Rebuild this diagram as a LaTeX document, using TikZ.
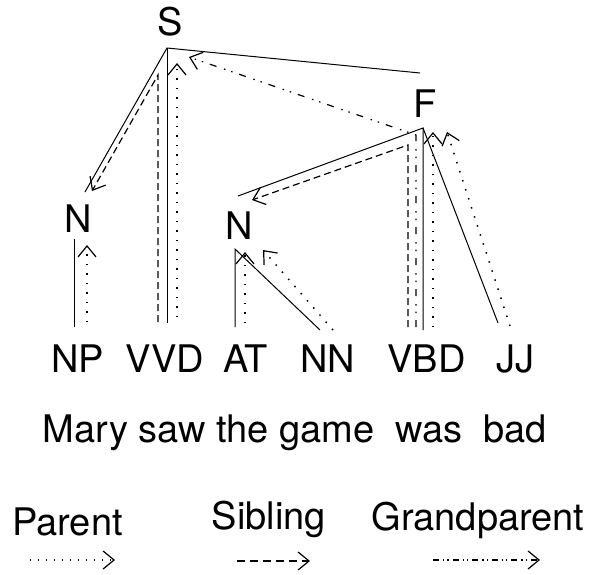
\documentclass[tikz,border=0pt]{standalone}
\usepackage{fontspec}
\setmainfont{TeX Gyre Heros}
\usetikzlibrary{arrows.meta}
\begin{document}
\begin{tikzpicture}[x=1pt,y=-1pt,
  lbl/.style={inner sep=0pt, anchor=base, font=\fontsize{38}{45}\selectfont},
  tree/.style={line width=1pt},
  tip/.style={-{Straight Barb[length=11pt,width=18pt,line width=1.2pt]}},
  parent/.style={tip, line width=1.5pt, dash pattern=on 1.5pt off 8pt},
  sibling/.style={tip, line width=1.2pt, dash pattern=on 7pt off 4pt},
  grand/.style={tip, line width=1.2pt, dash pattern=on 7pt off 7pt on 1.5pt off 6pt on 1.5pt off 8pt},
  lparent/.style={tip, line width=1.3pt, dash pattern=on 1.3pt off 6.7pt},
  lsibling/.style={tip, line width=1.1pt, dash pattern=on 8pt off 5pt},
  lgrand/.style={tip, line width=1.1pt, dash pattern=on 6pt off 4pt on 1.3pt off 3pt on 1.3pt off 4pt},
]
\useasboundingbox (0,0) rectangle (589,574);
% labels
\node[lbl] (S) at (170,35) {S};
\node[lbl] (F) at (425,117) {F};
\node[lbl] (N1) at (78,232) {N};
\node[lbl] (N2) at (239,239) {N};
\node[lbl] (NP) at (77.5,372) {NP};
\node[lbl] (VVD) at (165,372) {VVD};
\node[lbl] (AT) at (245.5,372) {AT};
\node[lbl] (NN) at (327.5,372) {NN};
\node[lbl] (VBD) at (426.5,372) {VBD};
\node[lbl] (JJ) at (515,372) {JJ};
\node[lbl] (words) at (295,442) {Mary saw the game\ \ was\ \ bad};
\node[lbl] (lP) at (67.5,535) {Parent};
\node[lbl] (lS) at (269,529) {Sibling};
\node[lbl] (lG) at (478,530) {Grandparent};
% tree points
\coordinate (s0) at (167,48);
\coordinate (sN) at (85,192);
\coordinate (sF) at (420,73);
\coordinate (sV) at (167,323);
\coordinate (f0) at (423,128);
\coordinate (fN) at (238,196);
\coordinate (fV) at (423,330);
\coordinate (fJ) at (498,323);
\coordinate (n1t) at (74,239);
\coordinate (n1b) at (74,327);
\coordinate (n2t) at (235,249);
\coordinate (n2b) at (235,327);
\coordinate (n2d) at (320,330);
% solid tree edges
\draw[tree] (sN) -- (s0) -- (sF);
\draw[tree] (s0) -- (sV);
\draw[tree] (fN) -- (f0) -- (fV);
\draw[tree] (f0) -- (fJ);
\draw[tree] (n1t) -- (n1b);
\draw[tree] (n2b) -- (n2t) -- (n2d);
% parent arrows
\coordinate (p1a) at (87,322);  \coordinate (p1b) at (87,245);
\coordinate (p2a) at (177,317); \coordinate (p2b) at (177,63);
\coordinate (p3a) at (245,323); \coordinate (p3b) at (245,252);
\coordinate (p4a) at (333,330); \coordinate (p4b) at (263,250);
\coordinate (p5a) at (433,327); \coordinate (p5b) at (433,132);
\coordinate (p6a) at (510,326); \coordinate (p6b) at (447,132);
\draw[parent] (p1a) -- (p1b);
\draw[parent] (p2a) -- (p2b);
\draw[parent] (p3a) -- (p3b);
\draw[parent] (p4a) -- (p4b);
\draw[parent] (p5a) -- (p5b);
\draw[parent] (p6a) -- (p6b);
% sibling arrows
\coordinate (q1a) at (158,322); \coordinate (q1b) at (158,75); \coordinate (q1c) at (92,191);
\coordinate (q2a) at (408,327); \coordinate (q2b) at (408,145); \coordinate (q2c) at (252,200);
\draw[sibling] (q1a) -- (q1b) -- (q1c);
\draw[sibling] (q2a) -- (q2b) -- (q2c);
% grandparent arrow
\coordinate (g1a) at (416,327); \coordinate (g1b) at (416,135); \coordinate (g1c) at (189,57);
\draw[grand] (g1a) -- (g1b) -- (g1c);
% legend arrows
\coordinate (lpa) at (30,560);  \coordinate (lpb) at (115,560);
\coordinate (lsa) at (237,561); \coordinate (lsb) at (310,561);
\coordinate (lga) at (433,560); \coordinate (lgb) at (540,560);
\draw[lparent] (lpa) -- (lpb);
\draw[lsibling] (lsa) -- (lsb);
\draw[lgrand] (lga) -- (lgb);
\end{tikzpicture}
\end{document}
